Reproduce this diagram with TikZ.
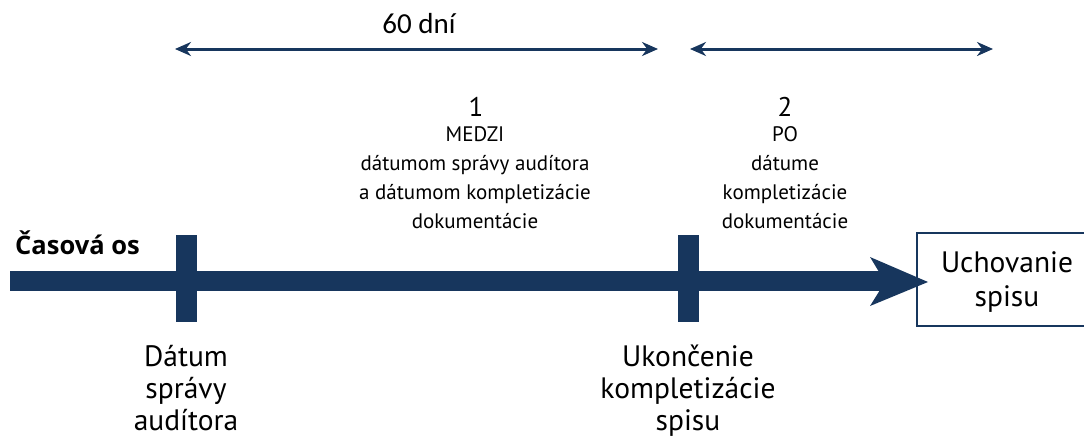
\documentclass[tikz,border=0pt]{standalone}
\usepackage{fontspec}
\setmainfont{PT Sans}
\newfontfamily\spanfont{Carlito}
\newfontfamily\axisfont{Open Sans}
\usetikzlibrary{arrows.meta}
\definecolor{navy}{RGB}{23,54,93}
\begin{document}
\begin{tikzpicture}[x=1pt,y=-1pt,
  span/.style={draw=navy,line width=3pt,
    {Stealth[length=16pt,width=14pt]}-{Stealth[length=16pt,width=14pt]}},
  tickmark/.style={fill=navy,draw=none,minimum width=21pt,minimum height=87pt,inner sep=0pt},
  note/.style={align=center,anchor=base,inner sep=0pt,font=\fontsize{21}{28.7}\selectfont},
  phase/.style={anchor=base,inner sep=0pt,font=\fontsize{27}{30}\selectfont},
  milestone/.style={align=center,anchor=base,inner sep=0pt,font=\fontsize{29.5}{32}\selectfont},
]
\useasboundingbox (0,0) rectangle (1084,442);

% time axis: thick bar with a notched arrow head
\fill[navy] (10,271) rectangle (885,291);
\fill[navy] (870,257) -- (928,282) -- (870,306) -- (885,282) -- cycle;
\node[anchor=base west,inner sep=0pt,font=\axisfont\fontsize{25.5}{28}\selectfont\bfseries] (axis) at (15,254) {Časová os};

% milestones on the axis
\node[tickmark] (t1) at (186,278.5) {};
\node[tickmark] (t2) at (688,278.5) {};

% archive box at the end of the axis
\node[draw=navy,line width=2pt,minimum width=183pt,minimum height=93pt,inner sep=0pt] (keep) at (1008.5,279.5) {};
\node[milestone,font=\fontsize{29.5}{34}\selectfont] (keeptxt) at (1007,306) {Uchovanie\\spisu};

% spans above the axis
\coordinate (s1a) at (175,49);
\coordinate (s1b) at (658,49);
\coordinate (s2a) at (690,49);
\coordinate (s2b) at (993,49);
\draw[span] (s1a) -- (s1b);
\draw[span] (s2a) -- (s2b);
\node[anchor=base,inner sep=0pt,font=\spanfont\fontsize{29}{30}\selectfont] (days) at (419,33) {60 dní};

% phase descriptions
\node[phase] (p1) at (476,116) {1};
\node[note] (p1txt) at (475,228) {MEDZI\\dátumom správy audítora\\a dátumom kompletizácie\\dokumentácie};
\node[phase] (p2) at (785,116) {2};
\node[note] (p2txt) at (785,228) {PO\\dátume\\kompletizácie\\dokumentácie};

% milestone labels below the axis
\node[milestone] (m1) at (186,430) {Dátum\\správy\\audítora};
\node[milestone] (m2) at (688,430) {Ukončenie\\kompletizácie\\spisu};
\end{tikzpicture}
\end{document}
